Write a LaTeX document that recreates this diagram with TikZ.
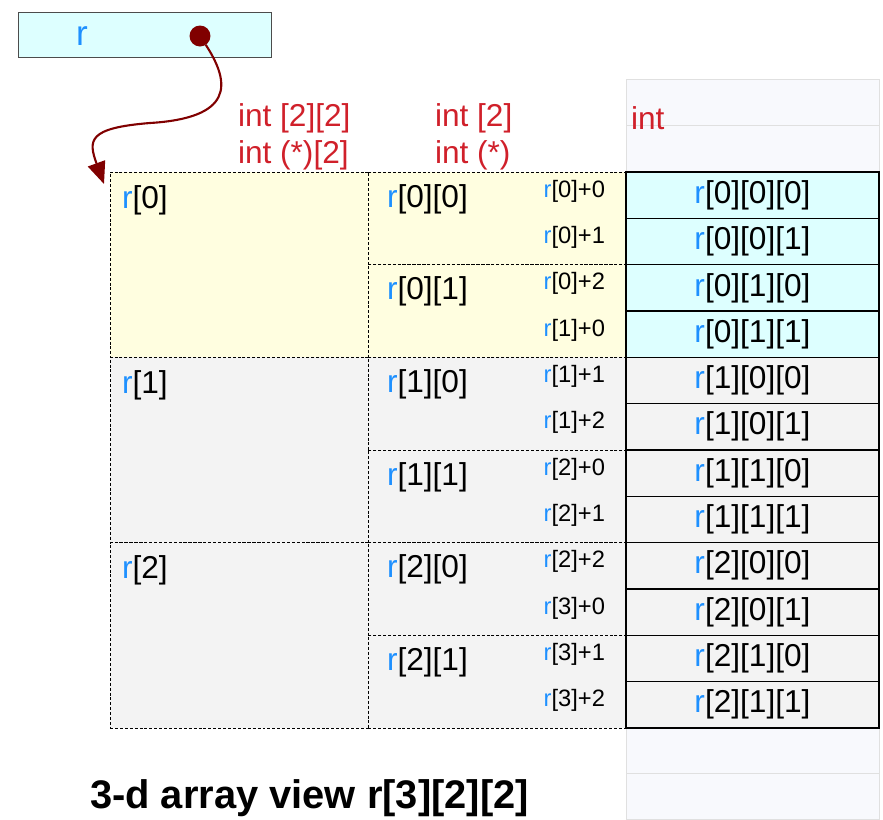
\documentclass[tikz,border=0pt]{standalone}
\usepackage{fontspec}
\setmainfont{Liberation Sans}
\usetikzlibrary{arrows.meta,positioning,calc}
\definecolor{rblue}{HTML}{1E90FF}
\definecolor{tred}{HTML}{D0202A}
\definecolor{darkred}{HTML}{800000}
\definecolor{cyanbox}{HTML}{DDFFFF}
\definecolor{yelbox}{HTML}{FFFEE0}
\definecolor{graybox}{HTML}{F3F3F3}
\definecolor{colbg}{HTML}{F8F9FD}
\newcommand{\rv}{\textcolor{rblue}{r}}

\begin{document}
\begin{tikzpicture}[x=0.02cm, y=-0.02cm, >=Latex,
  every node/.style={font=\fontsize{18}{20}\selectfont, inner sep=0pt, outer sep=0pt},
  elem/.style={draw, line width=0.8pt, anchor=north west, minimum width=5.06cm, minimum height=0.9267cm},
  rowbox/.style={draw, dash pattern=on 1.7pt off 1.1pt, line width=0.5pt, anchor=north west, minimum width=5.16cm},
  typ/.style={text=tred, anchor=west},
  off/.style={font=\fontsize{13.5}{15}\selectfont, anchor=east}]
\useasboundingbox (0,0) rectangle (883,819);
% memory column behind the cells
\node[fill=colbg, draw=black!12, anchor=north west, minimum width=5.06cm, minimum height=14.8cm] (col) at (626,79) {};
\draw[black!12] (626,125) -- (879,125) (626,773) -- (879,773);
% pointer r
\node[fill=cyanbox, draw=black!70, anchor=north west, minimum width=5.06cm, minimum height=0.9cm] (ptr) at (18,12) {};
\node[text=rblue, font=\fontsize{20}{22}\selectfont] (ptrname) at (82,36) {r};
\node[circle, fill=darkred, minimum size=0.42cm] (dot) at (200,36) {};
\coordinate (tip) at (104,184);
% type labels
\node[typ] (t2a) at (238,118) {int [2][2]};
\node[typ] (t2b) at (238,155) {int (*)[2]};
\node[typ] (t1a) at (435,118) {int [2]};
\node[typ] (t1b) at (435,155) {int (*)};
\node[typ] (t0) at (631,118) {int};
% r[i]
\foreach \i/\fc in {0/yelbox,1/graybox,2/graybox} {
  \pgfmathsetmacro{\ytop}{172+185.33*\i}
  \node[rowbox, fill=\fc, minimum height=3.7067cm] (row\i) at (110,\ytop) {};
  \node[anchor=west] (row\i lbl) at (122,\ytop+28) {\rv[\i]};
}
% r[i][j]
\foreach \j in {0,...,5} {
  \pgfmathsetmacro{\ytop}{172+92.67*\j}
  \pgfmathtruncatemacro{\a}{floor(\j/2)}
  \pgfmathtruncatemacro{\b}{mod(\j,2)}
  \ifnum\j<2 \def\fc{yelbox}\else\def\fc{graybox}\fi
  \node[rowbox, fill=\fc, minimum height=1.8533cm] (sub\j) at (368,\ytop) {};
  \node[anchor=west] (sub\j lbl) at (387,\ytop+27) {\rv[\a][\b]};
}
% r[i][j][k] and offsets
\foreach \n in {0,...,11} {
  \pgfmathsetmacro{\ytop}{172+46.33*\n}
  \pgfmathtruncatemacro{\a}{floor(\n/4)}
  \pgfmathtruncatemacro{\b}{mod(floor(\n/2),2)}
  \pgfmathtruncatemacro{\c}{mod(\n,2)}
  \pgfmathtruncatemacro{\p}{floor(\n/3)}
  \pgfmathtruncatemacro{\q}{mod(\n,3)}
  \ifnum\n<4 \def\fc{cyanbox}\else\def\fc{graybox}\fi
  \node[elem, fill=\fc] (m\n) at (626,\ytop) {\rv[\a][\b][\c]};
  \node[off] (off\n) at (605,\ytop+19) {\rv[\p]+\q};
}
\draw[darkred, line width=1.2pt, -{Triangle[length=0.44cm,width=0.36cm]}] (dot) .. controls (232,85) and (232,118) .. (150,123) .. controls (88,128) and (88,140) .. (tip);
\node[font=\bfseries\fontsize{22.7}{26}\selectfont, anchor=west] (title) at (90,798) {3-d array view r[3][2][2]};
\end{tikzpicture}
\end{document}
